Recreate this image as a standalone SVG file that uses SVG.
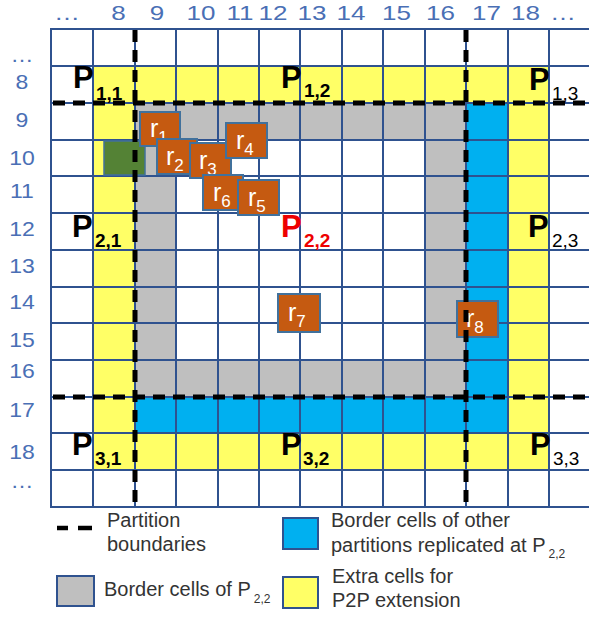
<svg xmlns="http://www.w3.org/2000/svg" width="589" height="617" viewBox="0 0 589 617">
<defs>
<style>
.yel{fill:#ffff66}
.gry{fill:#bfbfbf}
.blu{fill:#00b0f0}
.grid line{stroke:#2f528f;stroke-width:2}
.lbl{font-family:"Liberation Sans",Arial,sans-serif;font-size:20px;fill:#4a6fb5;text-anchor:middle}
.dash{stroke:#000;stroke-width:5;stroke-dasharray:12 8;fill:none}
.rbox rect{fill:#c55a11;stroke:#41719c;stroke-width:2}
.rbox text{font-family:"Liberation Sans",Arial,sans-serif;font-size:25px;fill:#fff}
.rbox tspan{font-size:17px}
.P{font-family:"Liberation Sans",Arial,sans-serif;font-size:31px;font-weight:bold;fill:#000}
.Ps{font-size:19px}
.Pn{font-size:19px;font-weight:normal}
.leg{font-family:"Liberation Sans",Arial,sans-serif;font-size:20px;fill:#333}
.legsub{font-size:12px}
.lbox{stroke:#2f528f;stroke-width:2}
</style>
</defs>
<rect width="589" height="617" fill="#fff"/>

<g id="fills">
<rect class="yel" x="93" y="66" width="456" height="37"/>
<rect class="yel" x="93" y="103" width="42" height="367"/>
<rect class="yel" x="508" y="103" width="41" height="367"/>
<rect class="yel" x="93" y="433" width="456" height="37"/>
<rect class="gry" x="135" y="103" width="331" height="37"/>
<rect class="gry" x="135" y="103" width="41" height="294"/>
<rect class="gry" x="135" y="360" width="331" height="37"/>
<rect class="gry" x="425" y="103" width="41" height="294"/>
<rect class="blu" x="466" y="103" width="42" height="330"/>
<rect class="blu" x="135" y="397" width="373" height="36"/>
</g>

<g id="grid" class="grid">
<line x1="51" y1="29" x2="51" y2="507"/>
<line x1="93" y1="29" x2="93" y2="507"/>
<line x1="135" y1="29" x2="135" y2="507"/>
<line x1="176" y1="29" x2="176" y2="507"/>
<line x1="218" y1="29" x2="218" y2="507"/>
<line x1="259" y1="29" x2="259" y2="507"/>
<line x1="300" y1="29" x2="300" y2="507"/>
<line x1="342" y1="29" x2="342" y2="507"/>
<line x1="383" y1="29" x2="383" y2="507"/>
<line x1="425" y1="29" x2="425" y2="507"/>
<line x1="466" y1="29" x2="466" y2="507"/>
<line x1="508" y1="29" x2="508" y2="507"/>
<line x1="549" y1="29" x2="549" y2="507"/>
<line x1="50" y1="29" x2="589" y2="29"/>
<line x1="50" y1="66" x2="589" y2="66"/>
<line x1="50" y1="103" x2="589" y2="103"/>
<line x1="50" y1="140" x2="589" y2="140"/>
<line x1="50" y1="176" x2="589" y2="176"/>
<line x1="50" y1="213" x2="589" y2="213"/>
<line x1="50" y1="250" x2="589" y2="250"/>
<line x1="50" y1="287" x2="589" y2="287"/>
<line x1="50" y1="323" x2="589" y2="323"/>
<line x1="50" y1="360" x2="589" y2="360"/>
<line x1="50" y1="397" x2="589" y2="397"/>
<line x1="50" y1="433" x2="589" y2="433"/>
<line x1="50" y1="470" x2="589" y2="470"/>
<line x1="50" y1="507" x2="589" y2="507"/>
</g>

<g id="green-cell">
<rect x="104" y="141" width="41" height="34" fill="#548235" stroke="#41719c" stroke-width="1.5"/>
</g>

<g id="r1" class="rbox"><rect x="140" y="112" width="40" height="34"/><text x="150" y="137">r<tspan dy="6">1</tspan></text></g>
<g id="r2" class="rbox"><rect x="157" y="139" width="40" height="35"/><text x="166" y="165">r<tspan dy="6">2</tspan></text></g>
<g id="r3" class="rbox"><rect x="190" y="143" width="41" height="35"/><text x="199" y="169">r<tspan dy="6">3</tspan></text></g>
<g id="r4" class="rbox"><rect x="226" y="123" width="41" height="35"/><text x="236" y="149">r<tspan dy="6">4</tspan></text></g>
<g id="r6" class="rbox"><rect x="203" y="175" width="40" height="35"/><text x="213" y="201">r<tspan dy="6">6</tspan></text></g>
<g id="r5" class="rbox"><rect x="238" y="180" width="41" height="35"/><text x="248" y="206">r<tspan dy="6">5</tspan></text></g>
<g id="r7" class="rbox"><rect x="278" y="294" width="42" height="38"/><text x="288" y="321">r<tspan dy="6">7</tspan></text></g>
<g id="r8" class="rbox"><rect x="457" y="301" width="41" height="36"/><text x="466" y="327">r<tspan dy="6">8</tspan></text></g>

<g id="connectors">
<line class="dash" x1="53" y1="103" x2="589" y2="103"/>
<line class="dash" x1="53" y1="397" x2="589" y2="397"/>
<line class="dash" x1="135" y1="30" x2="135" y2="503"/>
<line class="dash" x1="466" y1="30" x2="466" y2="503"/>
</g>

<g id="col-labels" class="lbl" transform="scale(1.3 1)">
<text x="51.5" y="20">…</text>
<text x="91.2" y="20">8</text>
<text x="120.8" y="20">9</text>
<text x="154.6" y="20">10</text>
<text x="184.6" y="20">11</text>
<text x="210" y="20">12</text>
<text x="240" y="20">13</text>
<text x="270" y="20">14</text>
<text x="305" y="20">15</text>
<text x="338.8" y="20">16</text>
<text x="374.2" y="20">17</text>
<text x="404.2" y="20">18</text>
<text x="433.1" y="20">…</text>
</g>

<g id="row-labels" class="lbl" transform="scale(1.15 1)">
<text x="19.1" y="62">…</text>
<text x="19.1" y="89">8</text>
<text x="19.1" y="127">9</text>
<text x="19.1" y="165">10</text>
<text x="19.1" y="198">11</text>
<text x="19.1" y="236">12</text>
<text x="19.1" y="273">13</text>
<text x="19.1" y="309">14</text>
<text x="19.1" y="347">15</text>
<text x="19.1" y="378">16</text>
<text x="19.1" y="417">17</text>
<text x="19.1" y="459">18</text>
<text x="19.1" y="488">…</text>
</g>

<g id="P11"><text class="P" x="73" y="88">P<tspan class="Ps" x="96" y="100">1,1</tspan></text></g>
<g id="P12"><text class="P" x="281" y="88">P<tspan class="Ps" x="304" y="97">1,2</tspan></text></g>
<g id="P13"><text class="P" x="529" y="90">P<tspan class="Pn" x="552" y="100">1,3</tspan></text></g>
<g id="P21"><text class="P" x="72" y="237">P<tspan class="Ps" x="95" y="247">2,1</tspan></text></g>
<g id="P22"><text class="P" x="281" y="237" style="fill:#ee0000">P<tspan class="Ps" x="304" y="247">2,2</tspan></text></g>
<g id="P23"><text class="P" x="528" y="237">P<tspan class="Pn" x="552" y="247">2,3</tspan></text></g>
<g id="P31"><text class="P" x="72" y="455">P<tspan class="Ps" x="95" y="465">3,1</tspan></text></g>
<g id="P32"><text class="P" x="281" y="455">P<tspan class="Ps" x="303" y="465">3,2</tspan></text></g>
<g id="P33"><text class="P" x="530" y="455">P<tspan class="Pn" x="553" y="465">3,3</tspan></text></g>

<g id="legend">
<line x1="57" y1="528" x2="68" y2="528" stroke="#000" stroke-width="4.5"/>
<line x1="78" y1="528" x2="92" y2="528" stroke="#000" stroke-width="4.5"/>
<text class="leg" x="107" y="527">Partition</text>
<text class="leg" x="107" y="551">boundaries</text>
<rect class="lbox" x="57" y="576" width="37" height="30" fill="#bfbfbf"/>
<text class="leg" x="104" y="596">Border cells of P<tspan class="legsub" dx="3" dy="7">2,2</tspan></text>
<rect class="lbox" x="283" y="518" width="35" height="31" fill="#00b0f0"/>
<text class="leg" x="331" y="527">Border cells of other</text>
<text class="leg" x="331" y="552">partitions replicated at P<tspan class="legsub" dx="3" dy="6">2,2</tspan></text>
<rect class="lbox" x="283" y="577" width="35" height="31" fill="#ffff66"/>
<text class="leg" x="332" y="583">Extra cells for</text>
<text class="leg" x="332" y="607">P2P extension</text>
</g>
</svg>
